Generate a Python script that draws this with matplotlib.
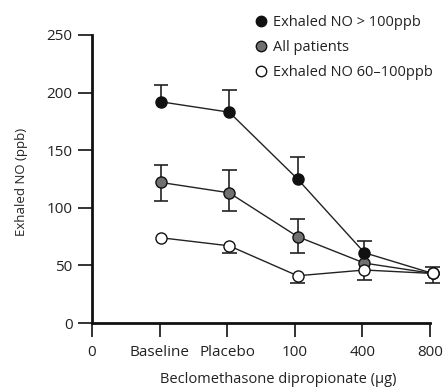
import numpy as np
import matplotlib
matplotlib.use("Agg")
import matplotlib.pyplot as plt
from matplotlib.lines import Line2D

plt.rcParams['font.family'] = ['Open Sans', 'DejaVu Sans']

# categorias del eje x
tick_labels = ["0", "Baseline", "Placebo", "100", "400", "800"]
x_pos = np.array([1.02, 2.03, 3.04, 4.03, 5.04])

# NO exhalado > 100 ppb (solo barra superior)
alto = np.array([192, 183, 125, 61, 43])
alto_sup = np.array([15, 19, 19, 10, 6])

# todos los pacientes
todos = np.array([122, 113, 75, 52, 43])
todos_sup = np.array([15, 20, 15, 0, 0])
todos_inf = np.array([16, 16, 14, 0, 0])

# NO exhalado 60-100 ppb (solo barra inferior)
medio = np.array([74, 67, 41, 46, 43])
medio_inf = np.array([0, 6, 6, 8.5, 8])

etiquetas = ["Exhaled NO > 100ppb", "All patients", "Exhaled NO 60\u2013100ppb"]

fig = plt.figure(figsize=(4.48, 3.88), dpi=100)
ax = fig.add_axes([0.2054, 0.1675, 0.7545, 0.7423])

CAP = 0.11  # media anchura del remate, en unidades del eje x

def barras(y, err, signo):
    for xi, yi, e in zip(x_pos, y, err):
        if e <= 0:
            continue
        fin = yi + signo * e
        ax.vlines(xi, yi, fin, color="#222222", lw=1.2, zorder=1, clip_on=False)
        ax.hlines(fin, xi - CAP, xi + CAP, color="#222222", lw=1.2, zorder=1, clip_on=False)

def serie(y, color, z):
    ax.plot(x_pos, y, "-", color="#222222", lw=1.0, zorder=2, clip_on=False)
    ax.plot(x_pos, y, "o", ms=8, mfc=color, mec="#111111", mew=1.0, zorder=z, clip_on=False)

barras(todos, todos_sup, 1)
barras(todos, todos_inf, -1)
barras(alto, alto_sup, 1)
barras(medio, medio_inf, -1)

serie(todos, "#707070", 3)
serie(alto, "#111111", 4)
serie(medio, "white", 5)

ax.set_xlim(0, 5)
ax.set_ylim(0, 250)
ax.set_xticks(range(6))
ax.set_xticklabels(tick_labels)
ax.set_yticks([0, 50, 100, 150, 200, 250])

for s in ["top", "right"]:
    ax.spines[s].set_visible(False)
for s in ["left", "bottom"]:
    ax.spines[s].set_linewidth(2.0)
    ax.spines[s].set_color("#111111")

ax.tick_params(axis="both", direction="out", length=10, width=1.2, color="#111111",
               labelsize=11, labelcolor="#222222")
ax.tick_params(axis="x", pad=6)
ax.tick_params(axis="y", pad=4)

ax.set_xlabel("Beclomethasone dipropionate (\u03bcg)", fontsize=10.5, color="#222222")
ax.xaxis.set_label_coords(0.55, -0.17)
ax.xaxis.label.set_va("top")
ax.set_ylabel("Exhaled NO (ppb)", fontsize=9.5, color="#222222")
ax.yaxis.set_label_coords(-0.19, 0.49)

handles = [Line2D([], [], ls="none", marker="o", ms=7.5, mfc=c, mec="#111111", mew=1.0)
           for c in ["#111111", "#707070", "white"]]
fig.legend(handles, etiquetas, loc="upper left", bbox_to_anchor=(0.54, 0.995),
           frameon=False, handlelength=0.8, handletextpad=0.4, labelspacing=0.7,
           fontsize=10.5, labelcolor="#222222")

fig.savefig("out.png", dpi=100)
